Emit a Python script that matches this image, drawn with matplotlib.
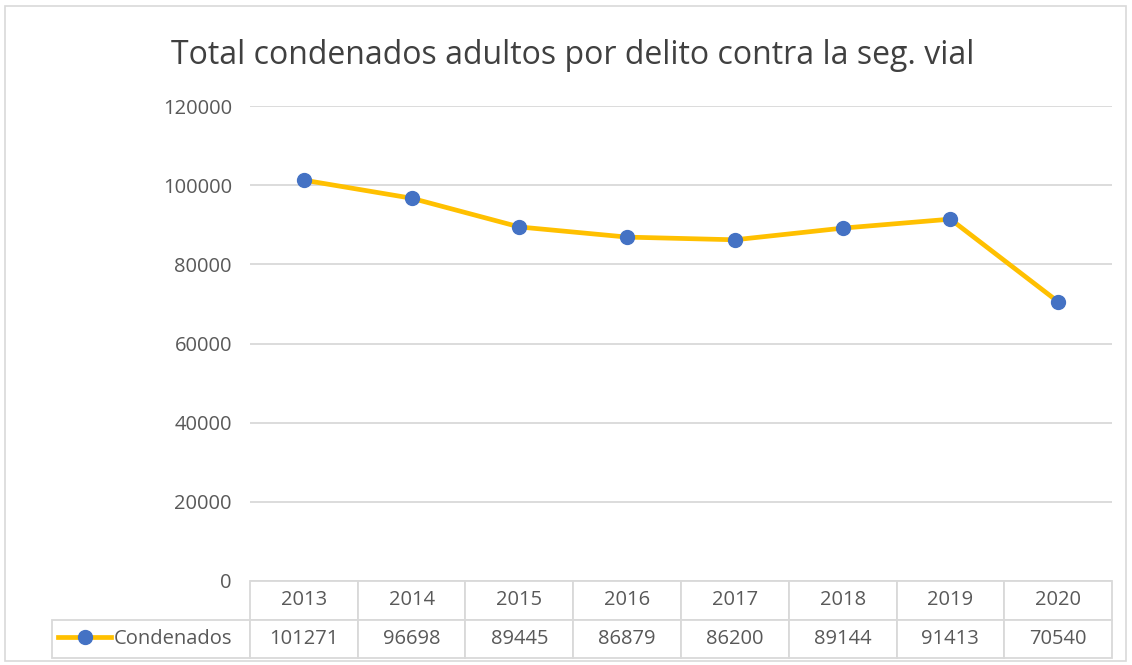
import matplotlib.pyplot as plt
from matplotlib.patches import Rectangle

years = ['2013', '2014', '2015', '2016', '2017', '2018', '2019', '2020']
condenados = [101271, 96698, 89445, 86879, 86200, 89144, 91413, 70540]
yticks = [0, 20000, 40000, 60000, 80000, 100000, 120000]
title = 'Total condenados adultos por delito contra la seg. vial'

plt.rcParams['font.family'] = ['Open Sans', 'DejaVu Sans']
text_col = '#595959'
grid_col = '#D9D9D9'

fig = plt.figure(figsize=(11.32, 6.65), dpi=100)
ax = fig.add_axes([250 / 1132, 84 / 665, 862 / 1132, 475 / 665])

x = list(range(len(years)))
ax.plot(x, condenados, color='#FFC000', lw=3.4, marker='o', ms=10,
        mfc='#4472C4', mec='#4472C4', label='Condenados', zorder=3)

ax.set_xlim(-0.5, len(years) - 0.5)
ax.set_ylim(0, 120000)
ax.set_yticks(yticks)
ax.set_yticklabels([str(v) for v in yticks], fontsize=14.5, color=text_col)
ax.set_xticks([])
ax.tick_params(axis='y', length=0, pad=13)
ax.grid(axis='y', color=grid_col, lw=1.3)
ax.set_axisbelow(True)
for s in ax.spines.values():
    s.set_visible(False)

fig.text(573 / 1132, 1 - 55 / 665, title, ha='center', va='center',
         fontsize=23, color='#404040')

# data table under the axis, first column holds the legend
label_w = 198 / 862
col_w = [label_w] + [1 / len(years)] * len(years)
tbl = ax.table(cellText=[[''] + years, [''] + [str(v) for v in condenados]],
               colWidths=col_w, cellLoc='center',
               bbox=[-label_w, -77 / 475, 1 + label_w, 77 / 475])
tbl.auto_set_font_size(False)
tbl.set_fontsize(14.5)
for (r, c), cell in tbl.get_celld().items():
    cell.set_edgecolor(grid_col)
    cell.set_linewidth(1.3)
    cell.get_text().set_color(text_col)
    if r == 0 and c == 0:
        cell.visible_edges = ''

leg = ax.legend(loc='center left', bbox_to_anchor=(-label_w - 0.002, -58 / 475),
                frameon=False, fontsize=14.5, handlelength=2.6, handletextpad=0.15,
                borderaxespad=0)
for t in leg.get_texts():
    t.set_color(text_col)

fig.patches.append(Rectangle((5 / 1132, 4 / 665), 1121 / 1132, 655 / 665,
                             transform=fig.transFigure, fill=False,
                             edgecolor=grid_col, lw=1.2))

fig.savefig('out.png', dpi=100)
